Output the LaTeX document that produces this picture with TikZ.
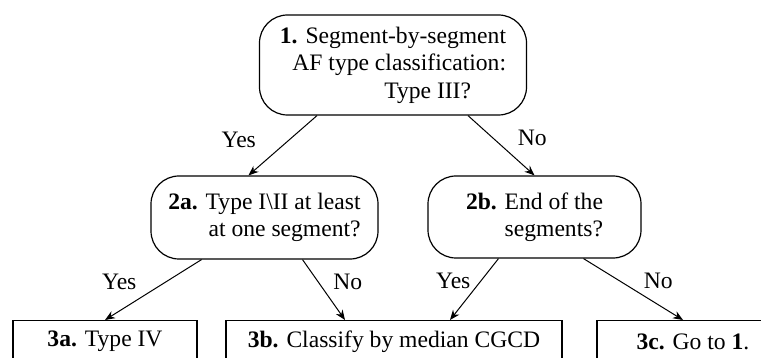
\documentclass[tikz,border=0pt]{standalone}
\usepackage{fontspec}
\setmainfont{Liberation Serif}
\usetikzlibrary{arrows.meta}
\tikzstyle{decision} = [rectangle, rounded corners=14pt, draw=black, line width=0.6pt, align=right, inner sep=0pt]
\tikzstyle{outcome} = [rectangle, draw=black, line width=0.6pt, anchor=north, minimum height=21pt, inner sep=0pt]
\tikzstyle{arrow} = [line width=0.5pt, -{Stealth[length=5pt, width=4pt]}]
\tikzstyle{lbl} = [inner sep=0pt]

\begin{document}
\begin{tikzpicture}[x=0.5pt, y=-0.5pt, font=\fontsize{11.8}{13.75}\selectfont]
    \useasboundingbox (0,0) rectangle (761,358);
    \clip (0,0) rectangle (761,358);
    % questions
    \node[decision, minimum width=133.5pt, minimum height=50pt] (type3) at (393,65) {\textbf{1.} Segment-by-segment\\ AF type classification:\\ Type III?\hspace*{17.5pt}};
    \node[decision, minimum width=113.5pt, minimum height=41.5pt] (type12) at (264.5,217.5) {\textbf{2a.} Type I\textbackslash II at least\\ at one segment?};
    \node[decision, minimum width=106.5pt, minimum height=41pt] (segend) at (534.5,217) {\textbf{2b.} End of the\\ segments?};
    % results (cut off at the bottom)
    \node[outcome, minimum width=92pt] (typeIV) at (105,320) {\textbf{3a.} Type IV};
    \node[outcome, minimum width=168pt] (median) at (394,320) {\textbf{3b.} Classify by median CGCD};
    \node[outcome, minimum width=96pt] (goto) at (693,320) {\textbf{3c.} Go to \textbf{1}.};

    \draw[arrow] ([xshift=-38pt]type3.south) -- node[lbl, xshift=-22pt, yshift=3pt] {Yes} ([xshift=-8pt]type12.north);
    \draw[arrow] ([xshift=37.5pt]type3.south) -- node[lbl, xshift=15.5pt, yshift=4pt] {No} (segend.north);
    \draw[arrow] ([xshift=-31.5pt]type12.south) -- node[lbl, xshift=-17pt, yshift=4pt] {Yes} (typeIV.north);
    \draw[arrow] ([xshift=19pt]type12.south) -- node[lbl, xshift=12pt, yshift=4pt] {No} ([xshift=-24.5pt]median.north);
    \draw[arrow] ([xshift=-18pt]segend.south) -- node[lbl, xshift=-10.5pt, yshift=4pt] {Yes} ([xshift=28pt]median.north);
    \draw[arrow] ([xshift=24.5pt]segend.south) -- node[lbl, xshift=12.5pt, yshift=4pt] {No} ([xshift=-5pt]goto.north);
\end{tikzpicture}
\end{document}
